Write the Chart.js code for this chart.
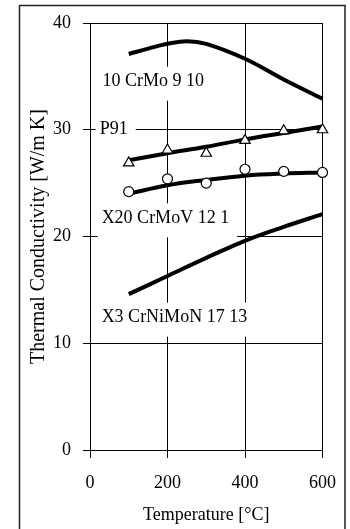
<!DOCTYPE html>
<html lang="en">
<head>
    <meta charset="UTF-8">
    <title>Thermal Conductivity vs Temperature</title>
    <script src="https://cdn.jsdelivr.net/npm/chart.js"></script>
    <style>
        body { margin: 0; background: #fff; }
        canvas { display: block; }
    </style>
</head>
<body>
    <canvas id="myChart" width="350" height="529"></canvas>

    <script>
        // Data (temperature in °C, conductivity in W/m K)
        const crmoTemps = [100, 150, 200, 250, 300, 400, 500, 600];
        const crmoLine = [37.1, 37.6, 38.05, 38.3, 38.05, 36.65, 34.7, 32.9];

        const temps = [100, 200, 300, 400, 500, 600];
        const p91Line = [27.15, 27.8, 28.4, 29.1, 29.7, 30.3];
        const p91Points = [26.9, 28.1, 27.8, 29.0, 29.9, 30.0];
        const x20Line = [24.0, 24.8, 25.3, 25.7, 25.9, 26.0];
        const x20Points = [24.2, 25.4, 25.0, 26.3, 26.1, 26.0];
        const x3Line = [14.6, 16.3, 18.0, 19.6, 20.9, 22.1];

        const xTicks = [0, 200, 400, 600];
        const yTicks = [0, 10, 20, 30, 40];

        // Curve labels, anchored in data coordinates (left edge, vertical centre)
        const labelText = ['10 CrMo 9 10', 'P91', 'X20 CrMoV 12 1', 'X3 CrNiMoN 17 13'];
        const labelTemp = [32, 25, 30, 30];
        const labelValue = [34.5, 30, 21.7, 12.4];

        const serif = '"Liberation Serif", "Times New Roman", serif';

        function pts(xs, ys) {
            return xs.map((x, i) => ({ x: x, y: ys[i] }));
        }

        function curve(data) {
            return { data: data, borderColor: '#000', borderWidth: 4, pointRadius: 0,
                     tension: 0.4, fill: false, clip: false, order: 2 };
        }

        function markers(data, style, r) {
            return { data: data, showLine: false, pointStyle: style, pointRadius: r,
                     pointBackgroundColor: '#fff', pointBorderColor: '#000',
                     pointBorderWidth: 1.2, clip: false, order: 1 };
        }

        // Curve labels sit on white boxes that hide the grid behind them
        const curveLabels = {
            id: 'curveLabels',
            beforeDatasetsDraw(chart) {
                const { ctx, scales: { x, y } } = chart;
                ctx.save();
                ctx.font = '18px ' + serif;
                ctx.textBaseline = 'middle';
                labelText.forEach((t, i) => {
                    const px = x.getPixelForValue(labelTemp[i]);
                    const py = y.getPixelForValue(labelValue[i]);
                    const w = ctx.measureText(t).width;
                    ctx.fillStyle = '#fff';
                    ctx.fillRect(px - 4, py - 15, w + 12, 34);
                    ctx.fillStyle = '#000';
                    ctx.fillText(t, px, py);
                });
                ctx.restore();
            }
        };

        // Outer frame around the whole figure
        const frame = {
            id: 'frame',
            afterDraw(chart) {
                const ctx = chart.ctx;
                ctx.save();
                ctx.strokeStyle = '#222';
                ctx.lineWidth = 1.5;
                ctx.beginPath();
                ctx.moveTo(19.5, 535);
                ctx.lineTo(19.5, 5.5);
                ctx.lineTo(345, 5.5);
                ctx.lineTo(345, 535);
                ctx.stroke();
                ctx.restore();
            }
        };

        const ctx = document.getElementById('myChart').getContext('2d');
        new Chart(ctx, {
            type: 'line',
            data: {
                datasets: [
                    curve(pts(crmoTemps, crmoLine)),
                    curve(pts(temps, p91Line)),
                    curve(pts(temps, x20Line)),
                    curve(pts(temps, x3Line)),
                    markers(pts(temps, p91Points), 'triangle', 6),
                    markers(pts(temps, x20Points), 'circle', 5)
                ]
            },
            options: {
                responsive: false,
                animation: false,
                layout: { padding: { left: 0, top: 23, right: 19, bottom: 0 } },
                plugins: { legend: { display: false }, tooltip: { enabled: false } },
                scales: {
                    x: {
                        type: 'linear',
                        min: 0,
                        max: 600,
                        afterBuildTicks: s => { s.ticks = xTicks.map(v => ({ value: v })); },
                        afterFit: s => { s.height = 79; },
                        ticks: { color: '#000', font: { family: serif, size: 18 }, padding: 14, maxRotation: 0 },
                        grid: { color: '#000', lineWidth: 1, tickLength: 8 },
                        border: { color: '#000', width: 1 },
                        title: { display: true, text: 'Temperature [°C]', color: '#000',
                                 font: { family: serif, size: 18 }, padding: { top: 0, bottom: 3 } }
                    },
                    y: {
                        min: 0,
                        max: 40,
                        afterBuildTicks: s => { s.ticks = yTicks.map(v => ({ value: v })); },
                        afterFit: s => { s.width = 90; },
                        ticks: { color: '#000', font: { family: serif, size: 18 }, padding: 12 },
                        grid: { color: '#000', lineWidth: 1, tickLength: 7 },
                        border: { color: '#000', width: 1 },
                        title: { display: true, text: 'Thermal Conductivity [W/m K]', color: '#000',
                                 font: { family: serif, size: 20 }, padding: { top: 27, bottom: 0 } }
                    }
                }
            },
            plugins: [curveLabels, frame]
        });
    </script>
</body>
</html>
